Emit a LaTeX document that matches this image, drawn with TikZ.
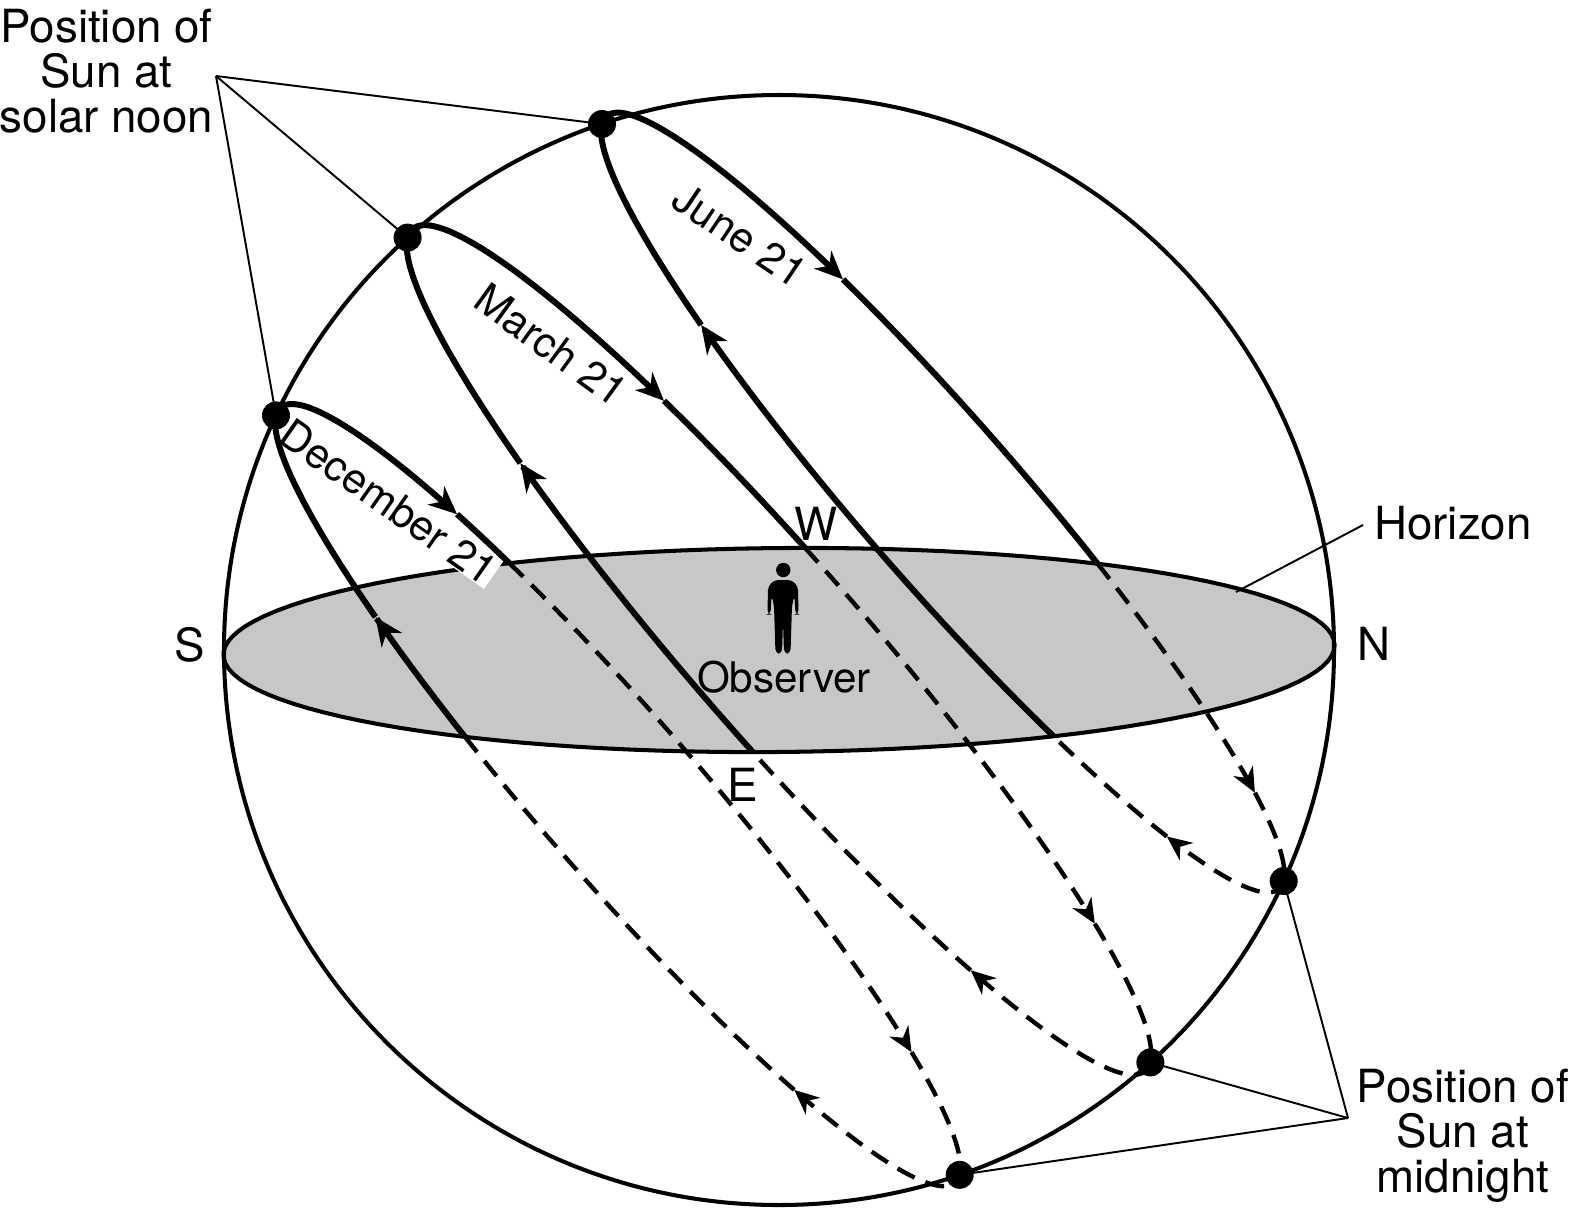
\documentclass[tikz,border=0pt]{standalone}
\usepackage{fontspec}
\setmainfont{TeX Gyre Heros}
\usetikzlibrary{arrows.meta}
\def\sunarc[#1](#2)(#3:#4){\draw[#1] plot[domain=#3:#4,samples=60,smooth] ({5.55*(sin(#2)*cos(42)-cos(#2)*sin(42)*cos(\x)+0.047*cos(#2)*sin(\x))},{5.55*(sin(#2)*sin(42)+cos(#2)*cos(42)*cos(\x)+0.184*cos(#2)*sin(\x))});}

\tikzset{
	daypath/.style={line width=1.7pt},
	nightpath/.style={line width=1.25pt, dash pattern=on 5.5pt off 3.3pt},
	dayarrow/.style={-{Stealth[length=8pt,width=7pt,inset=2.5pt]}},
	nightarrow/.style={-{Stealth[length=7pt,width=6.2pt,inset=2.2pt]}},
	leader/.style={line width=0.55pt},
	labeltext/.style={font=\fontsize{13}{12.8}\selectfont, align=center, inner sep=0pt},
	pathtext/.style={font=\fontsize{12}{12}\selectfont, inner sep=0.3pt}
}

\begin{document}
\begin{tikzpicture}
			%%%%% START %%%%%
			\useasboundingbox (-7.79,-5.61) rectangle (7.97,6.50);
			
			\fill[black!22] plot[domain=0:360,samples=120] ({5.55*cos(\x)+0.261*sin(\x)},{1.021*sin(\x)}) -- cycle;
			\draw[line width=1.15pt] plot[domain=0:360,samples=120] ({5.55*cos(\x)+0.261*sin(\x)},{1.021*sin(\x)}) -- cycle;
			\draw[line width=1.15pt] (0,0) circle (5.55);
			
			\node[pathtext, fill=white, rotate=-35] (declabel) at (-3.90,1.48) {December 21};
			
			% June 21
			\sunarc[daypath,dayarrow](23.4)(-112.93:-49);
			\sunarc[daypath,dayarrow](23.4)(-49:69);
			\sunarc[daypath](23.4)(69:112.93);
			\sunarc[nightpath,nightarrow](23.4)(112.93:152);
			\sunarc[nightpath,nightarrow](23.4)(152:225);
			\sunarc[nightpath](23.4)(225:247.07);
			
			% March 21
			\sunarc[daypath,dayarrow](0)(-90:-50);
			\sunarc[daypath,dayarrow](0)(-50:68);
			\sunarc[daypath](0)(68:90);
			\sunarc[nightpath,nightarrow](0)(90:144);
			\sunarc[nightpath,nightarrow](0)(144:235);
			\sunarc[nightpath](0)(235:270);
			
			% December 21
			\sunarc[daypath,dayarrow](-23)(-67.53:-49);
			\sunarc[daypath,dayarrow](-23)(-49:58);
			\sunarc[daypath](-23)(58:67.53);
			\sunarc[nightpath,nightarrow](-23)(67.53:145);
			\sunarc[nightpath,nightarrow](-23)(145:235);
			\sunarc[nightpath](-23)(235:292.47);
			
			\coordinate (junenoon) at (-1.770,5.260);
			\coordinate (marchnoon) at (-3.714,4.124);
			\coordinate (decnoon) at (-5.030,2.346);
			\coordinate (junemid) at (5.047,-2.310);
			\coordinate (marchmid) at (3.714,-4.124);
			\coordinate (decmid) at (1.807,-5.248);
			\coordinate (noonhub) at (-5.63,5.74);
			\coordinate (midhub) at (5.69,-4.68);
			\coordinate (horizonpt) at (4.57,0.58);
			\coordinate (horizonhub) at (5.84,1.25);
			
			\draw[leader] (noonhub) -- (junenoon);
			\draw[leader] (noonhub) -- (marchnoon);
			\draw[leader] (noonhub) -- (decnoon);
			\draw[leader] (midhub) -- (junemid);
			\draw[leader] (midhub) -- (marchmid);
			\draw[leader] (midhub) -- (decmid);
			\draw[leader] (horizonpt) -- (horizonhub);
			
			\fill (junenoon) circle (0.14);
			\fill (marchnoon) circle (0.14);
			\fill (decnoon) circle (0.14);
			\fill (junemid) circle (0.14);
			\fill (marchmid) circle (0.14);
			\fill (decmid) circle (0.14);
			
			\node[labeltext] (noonlabel) at (-6.725,5.785) {Position of\\Sun at\\solar noon};
			\node[labeltext] (midlabel) at (6.84,-4.86) {Position of\\Sun at\\midnight};
			\node[labeltext] (horizonlabel) at (6.74,1.265) {Horizon};
			\node[labeltext] (south) at (-5.89,0.05) {S};
			\node[labeltext] (north) at (5.95,0.06) {N};
			\node[labeltext] (west) at (0.37,1.26) {W};
			\node[labeltext] (east) at (-0.36,-1.35) {E};
			\node[pathtext] (observerlabel) at (0.05,-0.27) {Observer};
			\node[pathtext, rotate=-34] (junelabel) at (-0.39,4.15) {June 21};
			\node[pathtext, rotate=-36] (marchlabel) at (-2.28,3.05) {March 21};
			
			% observer
			\fill (0.043,0.80) circle (0.072);
			\fill[rounded corners=1.2pt] (-0.115,0.355) -- (-0.11,0.635) -- (-0.05,0.70) -- (0.13,0.70) -- (0.19,0.635) -- (0.195,0.355) -- (0.165,0.355) -- (0.155,0.545) -- (0.13,0.445) -- (0.115,-0.035) -- (0.05,-0.035) -- (0.04,0.285) -- (0.03,-0.035) -- (-0.035,-0.035) -- (-0.05,0.445) -- (-0.075,0.545) -- (-0.085,0.355) -- cycle;
			
			%%%%% END %%%%%
\end{tikzpicture}
\end{document}
